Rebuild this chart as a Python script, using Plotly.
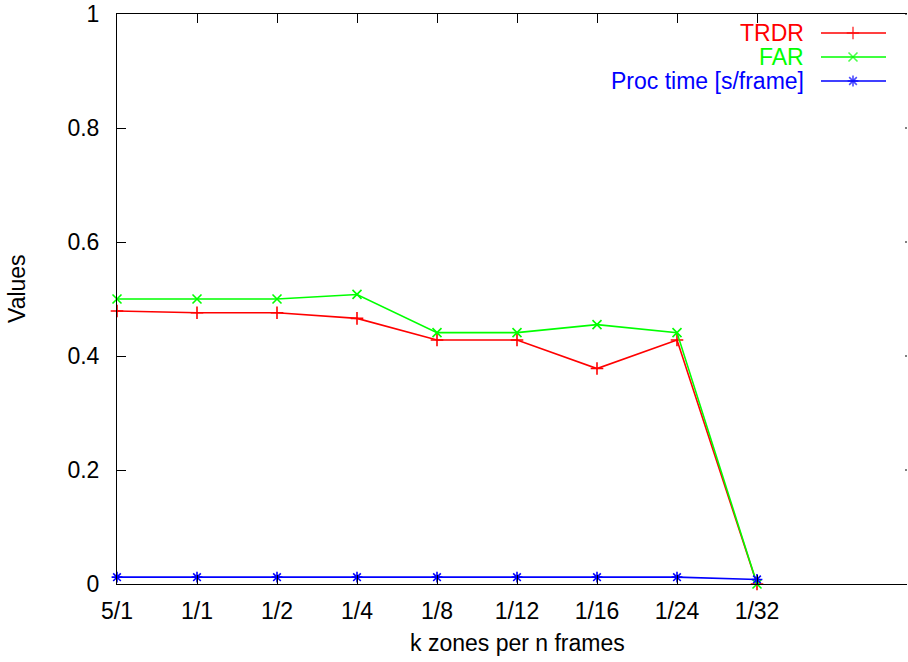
import plotly.graph_objects as go

categories = ["5/1", "1/1", "1/2", "1/4", "1/8", "1/12", "1/16", "1/24", "1/32"]
trdr = [0.479, 0.476, 0.476, 0.466, 0.428, 0.428, 0.378, 0.428, 0.0]
far = [0.500, 0.500, 0.500, 0.508, 0.441, 0.441, 0.455, 0.441, 0.0]
proc_time = [0.012, 0.012, 0.012, 0.012, 0.012, 0.012, 0.012, 0.012, 0.008]
series_names = ["TRDR", "FAR", "Proc time [s/frame]"]
series_colors = ["#ff0000", "#00ff00", "#0000ff"]
series_symbols = ["cross-thin-open", "x-thin-open", "asterisk-open"]
y_ticks = [0, 0.2, 0.4, 0.6, 0.8, 1.0]

W, H = 908, 662
L, R, T, B = 117, 907, 14, 584
FS = 23
FONT = dict(family="Liberation Sans, Arial, sans-serif", size=FS, color="black")

def px_x(p):
    return (p - L) / (R - L)

def px_y(p):
    return (B - p) / (B - T)

fig = go.Figure()
for name, vals, col, sym in zip(series_names, [trdr, far, proc_time], series_colors, series_symbols):
    fig.add_trace(go.Scatter(
        x=categories, y=vals, mode="lines+markers", name=name,
        line=dict(color=col, width=1.6),
        marker=dict(symbol=sym, size=9, color=col, line=dict(color=col, width=1.6)),
        cliponaxis=False, showlegend=False,
    ))

# custom gnuplot-style legend (text left, sample right)
row_px = [33, 57, 81]
for name, col, sym, ry in zip(series_names, series_colors, series_symbols, row_px):
    yy = px_y(ry)
    fig.add_trace(go.Scatter(
        x=[px_x(821), px_x(853), px_x(886)], y=[yy, yy, yy],
        xaxis="x2", yaxis="y2", mode="lines+markers",
        line=dict(color=col, width=1.6),
        marker=dict(symbol=sym, size=[0, 9, 0], color=col, line=dict(color=col, width=1.6)),
        cliponaxis=False, showlegend=False, hoverinfo="skip",
    ))
    fig.add_annotation(x=px_x(806), y=yy, xref="paper", yref="paper",
                       text=name, showarrow=False, xanchor="right", yanchor="middle",
                       font=dict(family=FONT["family"], size=FS, color=col))

fig.add_annotation(x=px_x(517), y=px_y(643), xref="paper", yref="paper",
                   text="k zones per n frames", showarrow=False,
                   xanchor="center", yanchor="middle", font=FONT)
fig.add_annotation(x=px_x(17), y=px_y(289), xref="paper", yref="paper",
                   text="Values", showarrow=False, textangle=-90,
                   xanchor="center", yanchor="middle", font=FONT)

# mirrored y ticks at right edge (border itself lies just outside the canvas)
for v in y_ticks[1:]:
    fig.add_shape(type="line", xref="paper", yref="y", x0=px_x(905), x1=1.0, y0=v, y1=v,
                  line=dict(color="black", width=1))

fig.update_layout(
    width=W, height=H,
    margin=dict(l=L, r=W - R, t=T, b=H - B, pad=0),
    paper_bgcolor="white", plot_bgcolor="white",
    font=FONT,
    showlegend=False,
    xaxis=dict(type="category", range=[0, (R - L) / 80.0],
               showline=True, linecolor="black", linewidth=1, mirror="ticks",
               ticks="inside", ticklen=9, tickcolor="black",
               showgrid=False, zeroline=False, ticklabelstandoff=6,
               tickfont=FONT),
    yaxis=dict(range=[0, 1], tickvals=y_ticks,
               showline=True, linecolor="black", linewidth=1, mirror=False,
               ticks="inside", ticklen=9, tickcolor="black",
               showgrid=False, zeroline=False, ticklabelstandoff=12,
               tickfont=FONT),
    xaxis2=dict(range=[0, 1], overlaying="x", visible=False, fixedrange=True),
    yaxis2=dict(range=[0, 1], overlaying="y", visible=False, fixedrange=True),
)

fig.write_html("out.html")
